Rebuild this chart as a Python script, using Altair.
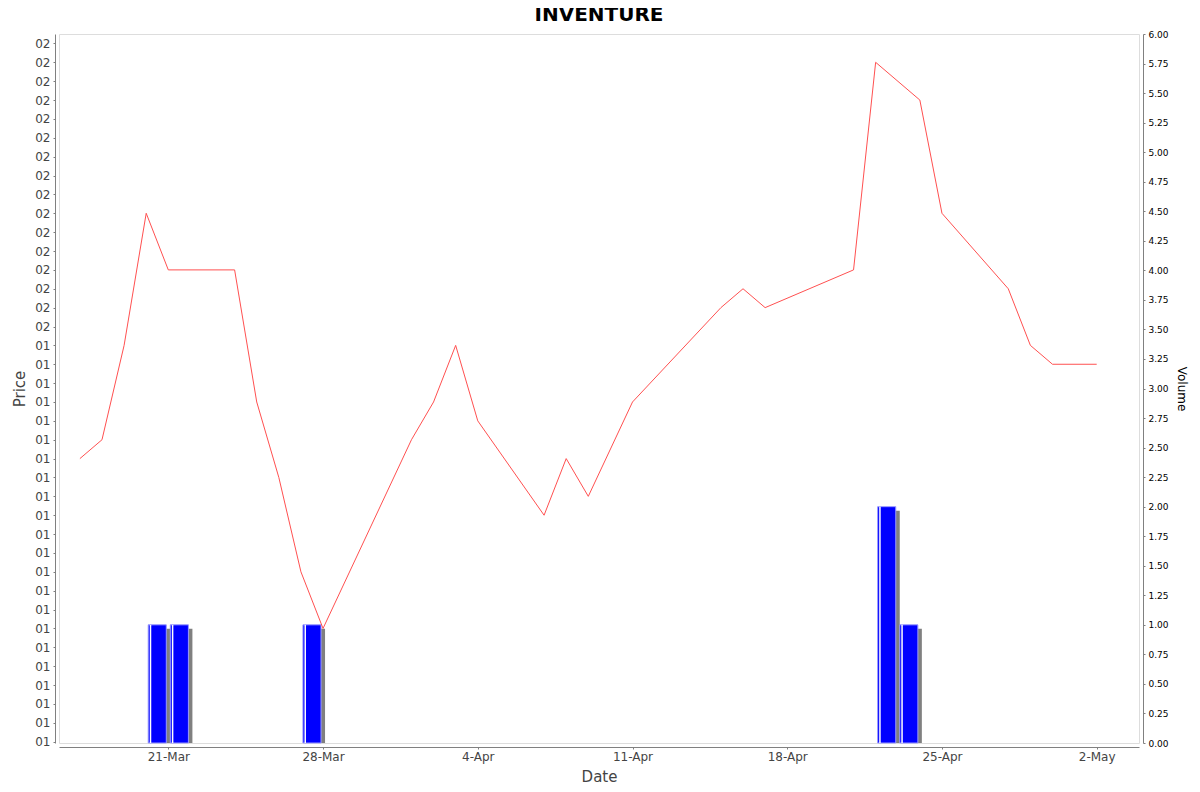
import altair as alt
import pandas as pd

# ---- data ----
chart_title = "INVENTURE"

price_dates = ["2014-03-17", "2014-03-18", "2014-03-19", "2014-03-20", "2014-03-21",
               "2014-03-24", "2014-03-25", "2014-03-26", "2014-03-27", "2014-03-28",
               "2014-04-01", "2014-04-02", "2014-04-03", "2014-04-04", "2014-04-07",
               "2014-04-08", "2014-04-09", "2014-04-11", "2014-04-15", "2014-04-16",
               "2014-04-17", "2014-04-21", "2014-04-22", "2014-04-24", "2014-04-25",
               "2014-04-28", "2014-04-29", "2014-04-30", "2014-05-02"]
prices = [0.0144, 0.0145, 0.0150, 0.0157, 0.0154,
          0.0154, 0.0147, 0.0143, 0.0138, 0.0135,
          0.0145, 0.0147, 0.0150, 0.0146, 0.0141,
          0.0144, 0.0142, 0.0147, 0.0152, 0.0153,
          0.0152, 0.0154, 0.0165, 0.0163, 0.0157,
          0.0153, 0.0150, 0.0149, 0.0149]

vol_dates = ["2014-03-20", "2014-03-21", "2014-03-27", "2014-04-22", "2014-04-23"]
volumes = [1, 1, 1, 2, 1]

price_ticks = [0.0129, 0.0130, 0.0131, 0.0132, 0.0133, 0.0134, 0.0135, 0.0136,
               0.0137, 0.0138, 0.0139, 0.0140, 0.0141, 0.0142, 0.0143, 0.0144,
               0.0145, 0.0146, 0.0147, 0.0148, 0.0149, 0.0150, 0.0151, 0.0152,
               0.0153, 0.0154, 0.0155, 0.0156, 0.0157, 0.0158, 0.0159, 0.0160,
               0.0161, 0.0162, 0.0163, 0.0164, 0.0165, 0.0166]
volume_ticks = [0, 0.25, 0.5, 0.75, 1, 1.25, 1.5, 1.75, 2, 2.25, 2.5, 2.75, 3,
                3.25, 3.5, 3.75, 4, 4.25, 4.5, 4.75, 5, 5.25, 5.5, 5.75, 6]
date_ticks = [(3, 21), (3, 28), (4, 4), (4, 11), (4, 18), (4, 25), (5, 2)]

price_df = pd.DataFrame({"date": [d + "T00:00:00" for d in price_dates], "price": prices})
vol_df = pd.DataFrame({"date": [d + "T00:00:00" for d in vol_dates], "volume": volumes})
title_df = pd.DataFrame({"t": [chart_title]})

FONT = "DejaVu Sans"
GRAY = "#808080"
LABEL = "#444444"
W, H = 1080, 709

x_scale = alt.Scale(domain=[alt.DateTime(year=2014, month=3, date=16, hours=1, minutes=19),
                            alt.DateTime(year=2014, month=5, date=3, hours=21, minutes=56)])
x_axis = alt.Axis(title="Date", values=[alt.DateTime(year=2014, month=m, date=d) for m, d in date_ticks],
                  format="%-d-%b", grid=False, offset=4, domainColor=GRAY, tickColor=GRAY,
                  tickSize=2, labelPadding=2, labelFont=FONT, labelFontSize=12, labelColor=LABEL,
                  titleFont=FONT, titleFontSize=15, titleFontWeight="normal", titleColor=LABEL,
                  titlePadding=7, labelFlush=False)

vol_axis = alt.Axis(title="Volume", orient="right", values=volume_ticks, format=".2f", grid=False,
                    offset=4, domainColor=GRAY, tickColor=GRAY, tickSize=2, labelPadding=3,
                    labelFont=FONT, labelFontSize=9, labelColor="black", labelOverlap=False,
                    labelFlush=False, titleFont=FONT, titleFontSize=12, titleFontWeight="normal",
                    titleColor="black", titlePadding=6)
vol_scale = alt.Scale(domain=[0, 6], nice=False, zero=True, padding=0)

price_axis = alt.Axis(title="Price", orient="left", values=price_ticks,
                      labelExpr="slice(format(datum.value, '.2f'), 2)", grid=False, offset=4,
                      domainColor=GRAY, tickColor=GRAY, tickSize=2, labelPadding=3,
                      labelFont=FONT, labelFontSize=12, labelColor=LABEL, labelOverlap=False,
                      labelFlush=False, titleFont=FONT, titleFontSize=15, titleFontWeight="normal",
                      titleColor=LABEL, titlePadding=7)
price_scale = alt.Scale(domain=[0.012893, 0.01665], nice=False, zero=False)

vol_base = alt.Chart(vol_df).transform_calculate(
    end="time(toDate(datum.date)) + 86400000"
)

shadow = vol_base.mark_bar(color=GRAY, xOffset=6, x2Offset=2, yOffset=4).encode(
    x=alt.X("date:T", scale=x_scale, axis=x_axis),
    x2="end:T",
    y=alt.Y("volume:Q", scale=vol_scale, axis=vol_axis),
    y2=alt.datum(0),
)
bars = vol_base.mark_bar(color="#0000ff", stroke="#9999ff", strokeWidth=1,
                         xOffset=2, x2Offset=-2).encode(
    x=alt.X("date:T", scale=x_scale, axis=x_axis),
    x2="end:T",
    y=alt.Y("volume:Q", scale=vol_scale, axis=vol_axis),
    y2=alt.datum(0),
)
shine = vol_base.mark_rule(color="white", strokeWidth=1.5, xOffset=4.3).encode(
    x=alt.X("date:T", scale=x_scale, axis=x_axis),
    y=alt.Y("volume:Q", scale=vol_scale, axis=vol_axis),
    y2=alt.datum(0),
)
vol_layer = alt.layer(shadow, bars, shine)

line = alt.Chart(price_df).mark_line(color="#ff5050", strokeWidth=1).encode(
    x=alt.X("date:T", scale=x_scale, axis=x_axis),
    y=alt.Y("price:Q", scale=price_scale, axis=price_axis),
)

title = alt.Chart(title_df).mark_text(font=FONT, fontSize=20, fontWeight="bold", color="black",
                                      align="center", baseline="alphabetic").encode(
    text="t:N",
    x=alt.value(W / 2),
    y=alt.value(-13),
)

chart = alt.layer(vol_layer, line, title).resolve_scale(y="independent").properties(
    width=W,
    height=H,
    autosize=alt.AutoSizeParams(type="none"),
    padding={"left": 51, "top": 26, "right": 53, "bottom": 41},
).configure_view(stroke=GRAY, strokeWidth=1).configure(background="white")

chart.save("out.html", embed_options={"renderer": "svg", "actions": False})
